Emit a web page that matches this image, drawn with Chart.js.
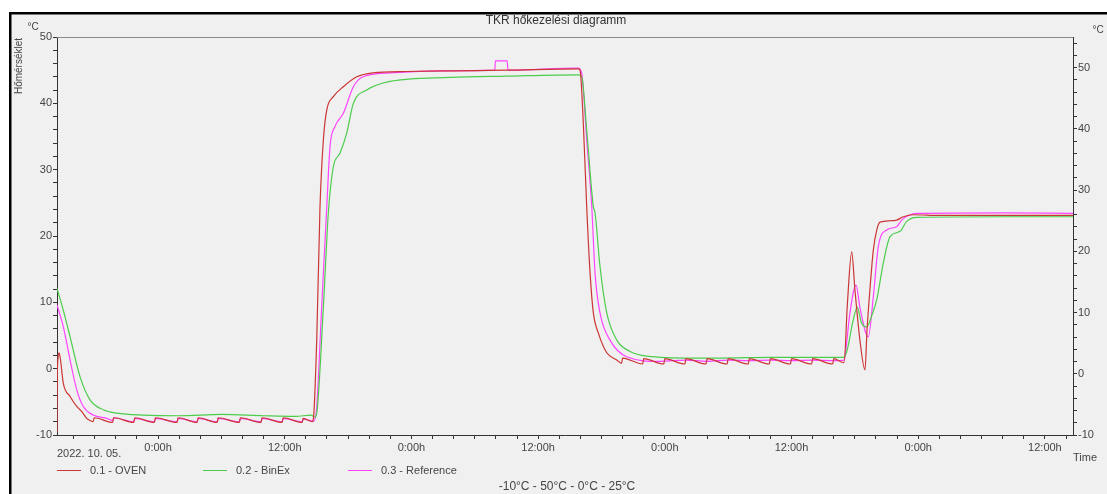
<!DOCTYPE html>
<html>
<head>
<meta charset="utf-8">
<script src="https://cdn.jsdelivr.net/npm/chart.js@4/dist/chart.umd.min.js"></script>
<style>
html,body{margin:0;padding:0;background:#fff;}
canvas{display:block;}
</style>
</head>
<body>
<canvas id="grafico" width="1107" height="494"></canvas>
<script>
// hours counted from 2022.10.06 0:00
const seriesNames = ['0.1 - OVEN', '0.2 - BinEx', '0.3 - Reference']
const seriesColors = ['#cc3535', '#4ccc4c', '#ff44ff']

const ovenHours = [-9.57,-9.55,-9.48,-9.38,-9.28,-8.97,-8.33,-7.70,-7.20,-6.75,-6.45,-6.15,-6.05,-4.30,-4.20,-2.30,-2.20,-0.35,-0.25,1.80,1.90,3.70,3.80,5.60,5.70,7.70,7.80,9.75,9.85,11.75,11.85,13.65,13.75,14.60,14.71,15.03,15.34,15.66,15.98,16.60,17.55,18.82,20.36,23.56,27.66,33.00,39.81,39.97,40.28,40.60,40.92,41.23,41.70,42.50,43.45,43.90,44.00,45.90,46.00,47.90,48.00,49.90,50.00,51.90,52.00,53.90,54.00,55.90,56.00,57.90,58.00,59.90,60.00,61.90,62.00,63.90,64.00,64.97,65.30,65.70,66.00,66.50,66.96,67.15,67.43,67.75,68.07,68.38,69.33,69.96,70.59,71.54,74.07,80.00,86.66]
const ovenTemps = [-9.6,-3.0,1.5,2.4,1.8,-2.2,-4.2,-5.7,-6.5,-7.5,-7.8,-8.0,-7.4,-8.1,-7.4,-8.1,-7.4,-8.1,-7.4,-8.1,-7.4,-8.1,-7.4,-8.1,-7.4,-8.1,-7.4,-8.1,-7.4,-8.1,-7.4,-8.1,-7.5,-8.0,-7.6,4.3,24.4,34.5,39.0,41.0,42.5,44.0,44.6,44.8,44.9,45.0,45.2,45.0,37.0,24.4,14.4,8.4,5.4,2.4,1.3,0.8,1.6,
  0.7,1.5, 0.7,1.5, 0.7,1.5, 0.7,1.5, 0.7,1.5, 0.7,1.5, 0.7,1.5, 0.7,1.5, 0.7,1.5, 0.7,1.5,
  0.9,10.0,17.6,12.0,4.0,-0.2,5.8,12.0,17.9,20.9,22.1,22.3,22.4,22.9,23.2,23.1,23.1,23.1]

const binexHours = [-9.57,-8.97,-8.33,-7.39,-6.44,-5.18,-3.91,-1.39,2.00,6.00,10.00,13.00,14.50,14.85,15.03,15.66,16.13,16.60,17.24,17.87,18.50,19.77,21.97,27.66,33.00,39.81,40.13,40.60,41.23,41.39,41.86,42.50,43.45,44.71,46.29,50.67,53.23,58.00,64.97,65.30,65.80,66.23,66.60,67.12,67.60,68.07,68.69,69.33,70.28,70.91,71.86,80.00,86.66]
const binexTemps = [12.1,8.8,4.8,-1.2,-4.7,-6.2,-6.7,-7.0,-7.1,-6.9,-7.1,-7.2,-7.0,-7.3,-6.7,9.3,23.5,30.4,32.5,35.5,40.0,42.0,43.3,43.9,44.1,44.3,44.0,36.0,24.4,23.5,15.4,8.4,4.3,2.6,1.9,1.6,1.6,1.7,1.7,3.0,7.0,9.3,7.0,6.3,8.0,10.4,15.9,19.9,20.7,22.2,22.8,22.9,22.9]

const refHours = [-9.57,-8.97,-8.33,-7.70,-7.08,-6.13,-4.86,-4.30,-4.20,-2.30,-2.20,-0.35,-0.25,1.80,1.90,3.70,3.80,5.60,5.70,7.70,7.80,9.75,9.85,11.75,11.85,13.65,13.75,14.75,15.03,15.50,15.98,16.29,16.76,17.55,18.50,19.42,21.97,27.66,31.90,31.95,33.06,33.15,39.81,40.13,40.60,41.08,41.39,41.86,42.81,44.39,47.55,50.00,52.00,54.00,56.00,58.00,60.00,62.00,64.00,65.00,65.16,65.50,66.11,66.50,67.27,67.75,68.22,69.01,69.96,70.44,71.22,71.86,80.00,86.66]
const refTemps = [9.6,6.3,1.3,-3.2,-5.7,-7.0,-7.5,-7.8,-7.4,-8.0,-7.5,-8.0,-7.5,-8.0,-7.5,-8.0,-7.5,-8.0,-7.5,-8.0,-7.5,-8.0,-7.5,-8.0,-7.5,-8.0,-7.6,-7.9,-5.7,9.3,24.4,33.5,36.5,38.5,42.5,44.0,44.6,44.9,45.0,46.4,46.4,45.0,45.3,44.5,34.5,24.4,14.4,8.4,4.3,1.8,1.1,1.3,1.1,1.3,1.2,1.3,1.2,1.3,1.2,1.3,3.0,8.0,12.6,9.0,4.8,10.9,18.4,20.9,21.4,22.4,23.2,23.4,23.5,23.4]

const xLabelHours = [0,12,24,36,48,60,72,84]
const xLabelText = ['0:00h','12:00h','0:00h','12:00h','0:00h','12:00h','0:00h','12:00h']
const leftLabels = [-10,0,10,20,30,40,50]
const rightLabels = [-10,0,10,20,30,40,50]

const betu = "'Liberation Sans', Arial, sans-serif"
const szurke = '#454545'

function pontok(hours, temps){
    return hours.map((h,i)=>({x:h, y:temps[i]}))
}

const keret={
    id:'keret',
    beforeDraw(chart){
        const ctx=chart.ctx
        ctx.save()
        ctx.fillStyle='#ffffff'
        ctx.fillRect(0,0,chart.width,chart.height)
        ctx.fillStyle='#f0f0f0'
        ctx.fillRect(10,13,chart.width-10,chart.height-13)
        ctx.fillStyle='#000000'
        ctx.fillRect(9,12,chart.width-9,2.5)
        ctx.fillRect(9,12,2.5,chart.height-12)
        ctx.restore()
    },
    beforeDatasetsDraw(chart){
        const {ctx, chartArea:{left, right, top}}=chart
        ctx.save()
        ctx.strokeStyle='#8a8a8a'
        ctx.lineWidth=1
        ctx.beginPath()
        ctx.moveTo(left,top+0.5)
        ctx.lineTo(right,top+0.5)
        ctx.stroke()
        ctx.restore()
    },
    afterDraw(chart){
        const {ctx}=chart
        ctx.save()
        ctx.fillStyle='#333333'
        ctx.font='12px '+betu
        ctx.textAlign='center'
        ctx.textBaseline='middle'
        ctx.fillText('TKR hőkezelési diagramm', 556, 21)

        ctx.fillStyle=szurke
        ctx.font='10px '+betu
        ctx.fillText('°C', 33, 27)
        ctx.fillText('°C', 1098, 30)
        ctx.textAlign='left'
        ctx.font='11px '+betu
        ctx.fillText('Time', 1073, 458)
        ctx.fillText('2022. 10. 05.', 57, 454)

        // függőleges tengelycím
        ctx.save()
        ctx.translate(19, 66)
        ctx.rotate(-Math.PI/2)
        ctx.textAlign='center'
        ctx.font='10px '+betu
        ctx.fillText('Hőmérséklet', 0, 0)
        ctx.restore()

        // jelmagyarázat
        const lx=[57,203,348]
        chart.data.datasets.forEach((ds,i)=>{
            ctx.strokeStyle=ds.borderColor
            ctx.lineWidth=1
            ctx.beginPath()
            ctx.moveTo(lx[i],470.5)
            ctx.lineTo(lx[i]+24,470.5)
            ctx.stroke()
            ctx.fillStyle=szurke
            ctx.textAlign='left'
            ctx.fillText(ds.label, lx[i]+33, 471)
        })

        ctx.font='12px '+betu
        ctx.textAlign='center'
        ctx.fillText('-10°C - 50°C - 0°C - 25°C', 567, 487)
        ctx.restore()
    }
}

const datasets=[
    {hours:ovenHours, temps:ovenTemps},
    {hours:binexHours, temps:binexTemps},
    {hours:refHours, temps:refTemps}
].map((s,i)=>({
    label:seriesNames[i],
    data:pontok(s.hours, s.temps),
    borderColor:seriesColors[i],
    borderWidth:1.2,
    pointRadius:0,
    cubicInterpolationMode:'monotone',
    fill:false,
    yAxisID:'y'
}))

new Chart(document.getElementById('grafico'), {
    type:'line',
    data:{datasets:datasets},
    options:{
        responsive:false,
        animation:false,
        devicePixelRatio:1,
        layout:{padding:{top:37, left:0, right:0, bottom:0}},
        plugins:{
            legend:{display:false},
            title:{display:false},
            tooltip:{enabled:false}
        },
        scales:{
            x:{
                type:'linear',
                min:-9.57,
                max:86.66,
                afterFit(scale){ scale.height=59 },
                border:{display:true, color:'#333', width:1},
                grid:{drawOnChartArea:false, tickLength:4, color:'#333'},
                ticks:{
                    stepSize:2,
                    autoSkip:false,
                    includeBounds:false,
                    maxRotation:0,
                    padding:2,
                    color:szurke,
                    font:{family:betu, size:11},
                    callback(v){
                        const k=xLabelHours.indexOf(v)
                        return k>=0 ? xLabelText[k] : ''
                    }
                }
            },
            y:{
                position:'left',
                min:-10,
                max:50,
                afterFit(scale){ scale.width=57 },
                border:{display:true, color:'#333', width:1},
                grid:{drawOnChartArea:false, tickLength:4, color:'#333'},
                ticks:{
                    stepSize:2,
                    autoSkip:false,
                    padding:1,
                    color:szurke,
                    font:{family:betu, size:11},
                    callback(v){ return leftLabels.includes(v) ? String(v) : '' }
                }
            },
            y2:{
                position:'right',
                min:-10,
                max:55,
                afterFit(scale){ scale.width=34 },
                border:{display:true, color:'#333', width:1},
                grid:{drawOnChartArea:false, tickLength:4, color:'#333'},
                ticks:{
                    stepSize:2,
                    autoSkip:false,
                    includeBounds:false,
                    padding:1,
                    color:szurke,
                    font:{family:betu, size:11},
                    callback(v){ return rightLabels.includes(v) ? String(v) : '' }
                }
            }
        }
    },
    plugins:[keret]
})
</script>
</body>
</html>
